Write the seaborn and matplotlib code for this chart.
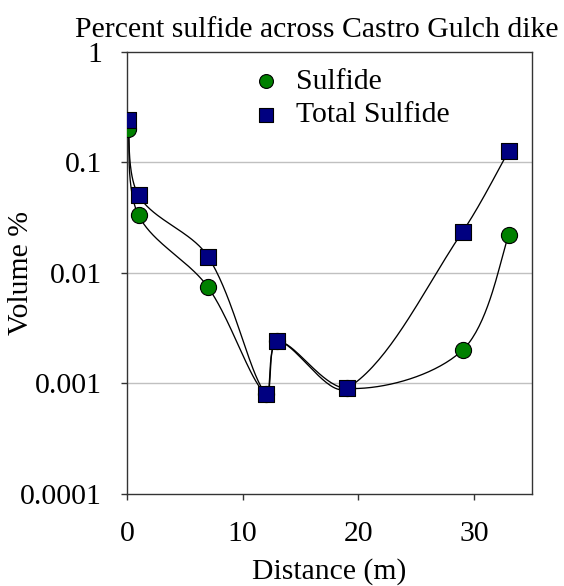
import numpy as np
import pandas as pd
import matplotlib
matplotlib.use("Agg")
import matplotlib.pyplot as plt
import seaborn as sns

# Sample positions across the dike and measured sulfide volumes
distance_m = [0.1, 1, 7, 12, 13, 19, 29, 33]
sulfide_pct = [0.2, 0.033, 0.0074, 0.0008, 0.0024, 0.0009, 0.002, 0.022]
total_sulfide_pct = [0.24, 0.05, 0.014, 0.0008, 0.0024, 0.0009, 0.0235, 0.127]

series_names = ["Sulfide", "Total Sulfide"]
y_ticks = [0.0001, 0.001, 0.01, 0.1, 1]
y_tick_labels = ["0.0001", "0.001", "0.01", "0.1", "1"]
x_ticks = [0, 10, 20, 30]

X_MAX = 35
FONT = 21.4

# Axes box in pixels (figure is 564 x 586 at 100 dpi)
AX_L, AX_R, AX_T, AX_B = 127, 532, 51.5, 494
PX_PER_X = (AX_R - AX_L) / X_MAX
PX_PER_DECADE = (AX_B - AX_T) / 4


def smooth_curve(x, y, n=40):
    """Bezier smoothing with chord-weighted tangents, computed in screen units."""
    pts = np.column_stack([np.asarray(x, float) * PX_PER_X,
                           np.log10(np.asarray(y, float)) * PX_PER_DECADE])
    m = len(pts)
    tangents = []
    for i in range(m):
        p_prev = pts[i - 1] if i > 0 else pts[i]
        p_next = pts[i + 1] if i < m - 1 else pts[i]
        tangents.append(p_next - p_prev)
    out = []
    for i in range(m - 1):
        p1, p2 = pts[i], pts[i + 1]
        seg_len = np.linalg.norm(p2 - p1)
        l_prev = np.linalg.norm(p1 - pts[i - 1]) if i > 0 else 0.0
        l_next = np.linalg.norm(pts[i + 2] - p2) if i + 2 < m else 0.0
        w1 = seg_len / (l_prev + seg_len) if i > 0 else 0.5
        w2 = seg_len / (seg_len + l_next) if i + 2 < m else 0.5
        c1 = p1 + tangents[i] * w1 / 3.0
        c2 = p2 - tangents[i + 1] * w2 / 3.0
        t = np.linspace(0, 1, n)[:, None]
        seg = ((1 - t) ** 3) * p1 + 3 * ((1 - t) ** 2) * t * c1 + 3 * (1 - t) * t ** 2 * c2 + t ** 3 * p2
        out.append(seg if i == 0 else seg[1:])
    seg = np.vstack(out)
    return seg[:, 0] / PX_PER_X, 10 ** (seg[:, 1] / PX_PER_DECADE)


sns.set_theme(style="white")
plt.rcParams["font.family"] = ["Liberation Serif", "DejaVu Serif"]
plt.rcParams["font.size"] = FONT
plt.rcParams["text.color"] = "black"
plt.rcParams["axes.labelcolor"] = "black"

fig = plt.figure(figsize=(5.64, 5.86), dpi=100)
ax = fig.add_axes([AX_L / 564, (586 - AX_B) / 586, (AX_R - AX_L) / 564, (AX_B - AX_T) / 586])

points = pd.DataFrame({
    "Distance": distance_m * 2,
    "Volume": sulfide_pct + total_sulfide_pct,
    "Series": [series_names[0]] * len(distance_m) + [series_names[1]] * len(distance_m),
})

curves = []
for name, vals in zip(series_names, [sulfide_pct, total_sulfide_pct]):
    cx, cy = smooth_curve(distance_m, vals)
    curves.append(pd.DataFrame({"Distance": cx, "Volume": cy, "Series": name}))
curves = pd.concat(curves, ignore_index=True)

ax.set_yscale("log")

# Gridlines at the inner decades
for g in y_ticks[1:-1]:
    ax.axhline(g, color="#c0c0c0", lw=1.0, zorder=0)

sns.lineplot(data=curves, x="Distance", y="Volume", units="Series", estimator=None,
             sort=False, color="black", lw=0.95, ax=ax, legend=False, zorder=2)

sulf = points[points["Series"] == series_names[0]]
tot = points[points["Series"] == series_names[1]]
sns.scatterplot(data=sulf, x="Distance", y="Volume", marker="o", s=135,
                color="#008000", edgecolor="black", linewidth=0.8, ax=ax,
                label=series_names[0], zorder=3)
sns.scatterplot(data=tot, x="Distance", y="Volume", marker="s", s=125,
                color="#000080", edgecolor="black", linewidth=0.8, ax=ax,
                label=series_names[1], zorder=4)

ax.set_xlim(0, X_MAX)
ax.set_ylim(0.0001, 1)
ax.set_xticks(x_ticks)
ax.set_xticklabels([str(v) for v in x_ticks])
ax.set_yticks(y_ticks)
ax.set_yticklabels(y_tick_labels)
ax.minorticks_off()
ax.tick_params(axis="both", which="major", direction="out", length=4.5, width=1.0,
               color="#333333", labelsize=FONT, labelcolor="black", bottom=True, left=True)
ax.tick_params(axis="y", pad=13.4)
ax.tick_params(axis="x", pad=14.7)

for sp in ax.spines.values():
    sp.set_color("#333333")
    sp.set_linewidth(1.0)

ax.set_xlabel("Distance (m)", fontsize=FONT, va="center")
ax.set_ylabel("Volume %", fontsize=FONT, va="center")
ax.xaxis.set_label_coords(0.5, -(572 - AX_B) / (AX_B - AX_T))
ax.yaxis.set_label_coords((21 - AX_L) / (AX_R - AX_L), 0.5)

leg = ax.legend(loc="upper left",
                bbox_to_anchor=((251 - AX_L) / (AX_R - AX_L), 1 - (68 - AX_T) / (AX_B - AX_T)),
                frameon=False, fontsize=FONT, handletextpad=0.5, labelspacing=0.23,
                borderaxespad=0, borderpad=0, markerscale=0.86, handlelength=1.0)

fig.text(317 / 564, 1 - 37 / 586, "Percent sulfide across Castro Gulch dike",
         ha="center", va="baseline", fontsize=FONT)

fig.savefig("out.png", dpi=100)
